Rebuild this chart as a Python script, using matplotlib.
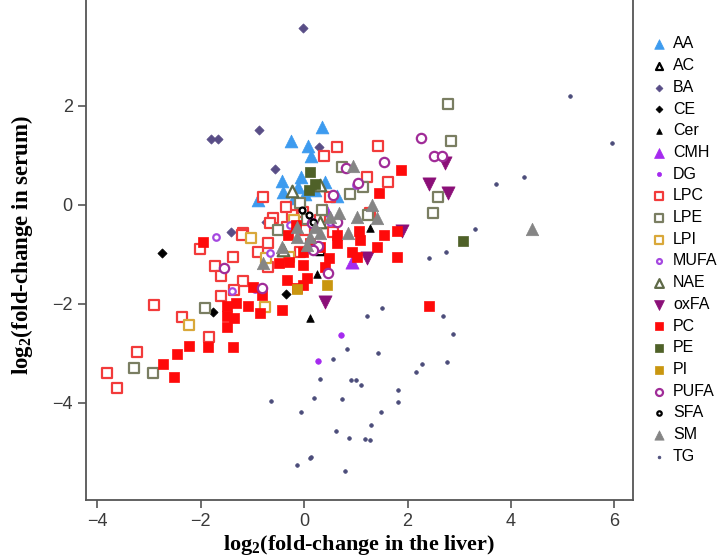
import numpy as np
import matplotlib
matplotlib.use('Agg')
import matplotlib.pyplot as plt

# log2 fold-change (liver, serum) per lipid class
aa_x = [0.35, -0.25, 0.08, 0.13, -0.43, -0.06, -0.41, -0.89, 0.41, 0.64, -0.12, 0.20, 0.02, -0.20]
aa_y = [1.58, 1.29, 1.19, 0.99, 0.48, 0.57, 0.26, 0.10, 0.46, 0.18, 0.36, 0.30, 0.22, 0.15]
ac_x = [0.30]
ac_y = [-0.90]
ba_x = [-0.02, -1.80, -1.66, -0.87, 0.29, -0.56, -0.73, -1.41]
ba_y = [3.58, 1.33, 1.33, 1.52, 1.17, 0.73, -0.34, -0.55]
ce_x = [-2.75, -1.76, -0.35]
ce_y = [-0.97, -2.16, -1.80]
cer_x = [0.25, 0.12, 1.28]
cer_y = [-1.39, -2.28, -0.47]
cmh_x = [0.93, 0.42]
cmh_y = [-1.15, -0.10]
dg_x = [0.72, 0.27]
dg_y = [-2.63, -3.15]
lpc_x = [0.64, 0.39, 1.43, 1.62, 1.22, -0.79, 0.50, -0.02, -0.23, -0.60, -0.66, -1.18, -0.33, 0.02,
         -0.89, -0.70, -0.08, -0.70, -1.37, -1.20, -2.01, -1.72, -1.60, -1.18, -1.60, -2.90, -2.36,
         -1.84, -3.23, -3.81, -3.62, -1.35, 1.28, 0.30, 0.55, -0.35]
lpc_y = [1.17, 0.99, 1.19, 0.46, 0.57, 0.16, 0.16, -0.14, -0.20, -0.26, -0.36, -0.57, -0.44, -0.50,
         -0.95, -0.77, -0.95, -1.25, -1.05, -0.61, -0.89, -1.23, -1.43, -1.54, -1.84, -2.02, -2.26,
         -2.67, -2.97, -3.39, -3.70, -1.72, -0.16, -0.30, -0.55, -0.05]
lpe_x = [2.79, 2.84, 2.59, 2.50, 0.73, 0.89, 1.14, -0.08, 0.06, 1.24, -3.29, -2.92, -1.91, -0.50, 0.35]
lpe_y = [2.04, 1.29, 0.16, -0.16, 0.77, 0.22, 0.36, 0.04, -0.28, -0.20, -3.29, -3.39, -2.08, -0.50, -0.10]
lpi_x = [-1.03, -2.22, -0.75, -0.30, -0.73, -0.20]
lpi_y = [-0.67, -2.42, -2.06, -1.05, -1.07, -0.30]
mufa_x = [-1.70, -1.39, -0.66, -0.27, -0.95, 0.50, 1.00]
mufa_y = [-0.65, -1.73, -0.97, -0.40, -1.70, -0.35, 0.40]
nae_x = [-0.23, 0.31, 0.30, -0.40]
nae_y = [0.28, 0.40, -0.35, -0.90]
oxfa_x = [2.73, 2.42, 2.79, 1.90, 1.22, 0.41]
oxfa_y = [0.85, 0.42, 0.24, -0.53, -1.07, -1.96]
pc_x = [1.88, 1.45, 1.80, 1.55, 1.41, 1.08, 1.06, 0.64, 0.64, 0.93, 1.80, 0.48, 0.41, 0.12, -0.02,
        0.06, -0.02, 2.42, 1.02, -0.48, -0.29, -0.31, -0.33, -0.14, -0.99, -0.81, -1.95, -0.02,
        -1.49, -1.32, -1.08, -0.85, -0.43, -1.49, -1.35, -1.49, -2.22, -1.86, -1.37, -2.46, -2.73,
        -2.51, 0.30, -0.15]
pc_y = [0.71, 0.24, -0.53, -0.61, -0.85, -0.71, -0.53, -0.61, -0.77, -0.95, -1.05, -1.07, -1.25,
        -0.77, -0.95, -1.47, -1.62, -2.04, -1.05, -1.17, -1.15, -0.61, -1.52, -1.68, -1.66, -1.82,
        -0.75, -1.21, -2.04, -1.98, -2.04, -2.18, -2.12, -2.24, -2.28, -2.46, -2.85, -2.87, -2.87,
        -3.01, -3.21, -3.47, -0.85, -0.40]
pe_x = [0.12, 0.20, 0.10, 3.08]
pe_y = [0.67, 0.42, 0.30, -0.73]
pi_x = [0.44, -0.14]
pi_y = [-1.62, -1.70]
pufa_x = [2.26, 2.51, 2.67, 1.55, 0.81, 1.04, 0.56, 0.46, 0.64, 0.27, 0.15, 0.17, -1.55, -0.81]
pufa_y = [1.35, 0.99, 0.99, 0.87, 0.75, 0.44, 0.20, -1.37, -0.34, -0.83, -0.36, -0.91, -1.27, -1.68]
sfa_x = [0.10, 0.17, -0.05]
sfa_y = [-0.20, -0.35, -0.10]
sm_x = [0.95, 1.32, 1.02, 1.41, 0.50, 0.31, -0.14, 0.12, -0.14, 0.85, -0.43, -0.79, 4.41, 0.68, 0.20, 0.05]
sm_y = [0.79, 0.00, -0.24, -0.26, -0.24, -0.57, -0.44, -0.65, -0.65, -0.57, -0.85, -1.17, -0.49, -0.16, -0.45, -0.80]
tg_x = [5.14, 5.96, 3.71, 4.26, 3.31, 2.75, 2.42, 1.51, 1.22, 2.69, 2.88, 0.83, 1.43, 0.56, 2.77, 2.28,
        2.17, 0.91, 1.00, 1.10, 1.82, 0.74, 1.82, 1.49, 0.31, 0.19, -0.64, -0.06, 1.30, 0.62, 0.87,
        1.17, 1.27, 0.14, 0.11, -0.14, 0.78]
tg_y = [2.20, 1.25, 0.42, 0.57, -0.48, -0.95, -1.07, -2.08, -2.24, -2.24, -2.61, -2.91, -2.99, -3.11,
        -3.17, -3.21, -3.37, -3.54, -3.54, -3.63, -3.74, -3.92, -3.98, -4.18, -3.52, -3.90, -3.96,
        -4.18, -4.44, -4.57, -4.71, -4.73, -4.75, -5.10, -5.12, -5.26, -5.37]

# label, x, y, marker, face, edge, size
series = [
    ('AA', aa_x, aa_y, '^', '#3D9BEF', '#3D9BEF', 85),
    ('AC', ac_x, ac_y, '^', 'white', 'black', 45),
    ('BA', ba_x, ba_y, 'D', '#584D86', '#584D86', 22),
    ('CE', ce_x, ce_y, 'D', 'black', 'black', 22),
    ('Cer', cer_x, cer_y, '^', 'black', 'black', 30),
    ('CMH', cmh_x, cmh_y, '^', '#A52AEF', '#A52AEF', 90),
    ('DG', dg_x, dg_y, 'o', '#A52AEF', '#A52AEF', 16),
    ('LPC', lpc_x, lpc_y, 's', 'white', '#F23B3B', 50),
    ('LPE', lpe_x, lpe_y, 's', 'white', '#7A7E62', 50),
    ('LPI', lpi_x, lpi_y, 's', 'white', '#D9A83A', 50),
    ('MUFA', mufa_x, mufa_y, 'o', 'white', '#A548E0', 22),
    ('NAE', nae_x, nae_y, '^', 'white', '#5F6A48', 70),
    ('oxFA', oxfa_x, oxfa_y, 'v', '#8B0F78', '#8B0F78', 90),
    ('PC', pc_x, pc_y, 's', '#FF0A0A', '#FF0A0A', 50),
    ('PE', pe_x, pe_y, 's', '#4F6128', '#4F6128', 50),
    ('PI', pi_x, pi_y, 's', '#C9960F', '#C9960F', 50),
    ('PUFA', pufa_x, pufa_y, 'o', 'white', '#A02C98', 45),
    ('SFA', sfa_x, sfa_y, 'o', 'white', 'black', 18),
    ('SM', sm_x, sm_y, '^', '#858585', '#858585', 80),
    ('TG', tg_x, tg_y, 'o', '#4B4C7A', '#4B4C7A', 7),
]

plt.rcParams['mathtext.fontset'] = 'custom'
plt.rcParams['mathtext.rm'] = 'Liberation Serif:bold'
plt.rcParams['mathtext.it'] = 'Liberation Serif:bold'
plt.rcParams['mathtext.bf'] = 'Liberation Serif:bold'

fig = plt.figure(figsize=(7.24, 5.6), dpi=100)
fig.patch.set_facecolor('white')
ax = fig.add_axes([86 / 724, 60 / 560, 547 / 724, 500 / 560])

for label, xs, ys, mk, fc, ec, s in series:
    open_mk = fc == 'white'
    ax.scatter(xs, ys, marker=mk, s=s, facecolors=fc, edgecolors=ec,
               linewidths=1.6 if open_mk else 0.5, label=label, zorder=3)

ax.set_xlim(-4.22, 6.36)
ax.set_ylim(-5.96, 4.14)
ax.set_xticks([-4, -2, 0, 2, 4, 6])
ax.set_yticks([-4, -2, 0, 2])

ax.spines['top'].set_visible(False)
for sp in ['left', 'bottom', 'right']:
    ax.spines[sp].set_color('#555555')
    ax.spines[sp].set_linewidth(1.3)
ax.tick_params(direction='out', length=6, width=1.2, color='#555555',
               labelsize=13, labelcolor='#3a3a3a')
for lab in ax.get_xticklabels() + ax.get_yticklabels():
    lab.set_fontfamily('Liberation Sans')

fig.text(359 / 724, 1 - 545 / 560, r'log$_{2}$(fold-change in the liver)',
         ha='center', va='center', fontsize=16, fontweight='bold', family='Liberation Serif')
fig.text(22 / 724, 1 - 245 / 560, r'log$_{2}$(fold-change in serum)', rotation=90,
         ha='center', va='center', fontsize=16.5, fontweight='bold', family='Liberation Serif')

leg = ax.legend(loc='upper left', bbox_to_anchor=(1.022, 0.94), frameon=False,
                prop={'family': 'Liberation Sans', 'size': 11.5}, handletextpad=0.35,
                handlelength=1.0, labelspacing=0.42, markerscale=0.75, borderaxespad=0)

plt.savefig('out.png', dpi=100, facecolor='white')
plt.close()
